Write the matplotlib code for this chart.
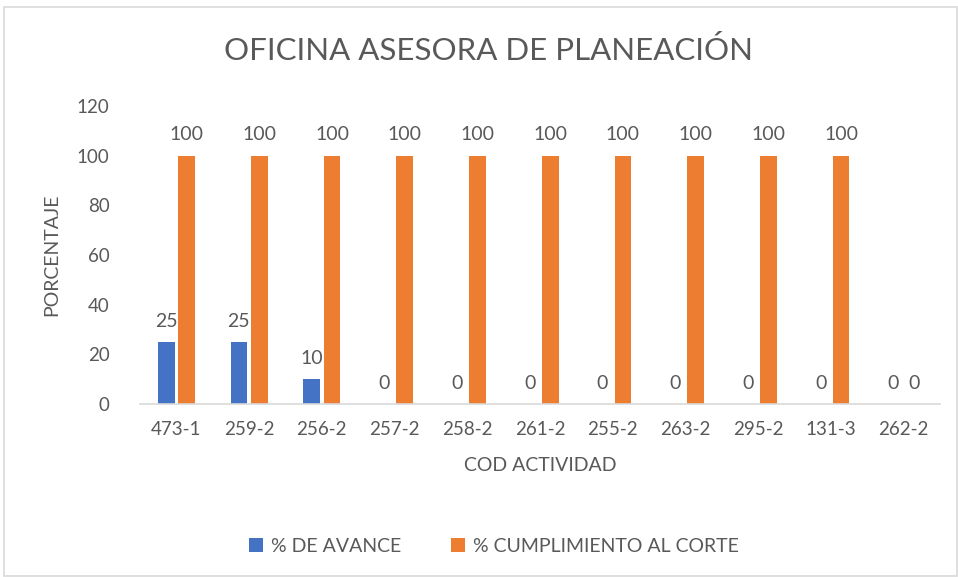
import numpy as np
import matplotlib.pyplot as plt
from matplotlib.patches import Rectangle

# data
categorias = ['473-1', '259-2', '256-2', '257-2', '258-2', '261-2',
              '255-2', '263-2', '295-2', '131-3', '262-2']
avance = [25, 25, 10, 0, 0, 0, 0, 0, 0, 0, 0]
cumplimiento = [100, 100, 100, 100, 100, 100, 100, 100, 100, 100, 0]

plt.rcParams['font.family'] = ['Lato', 'DejaVu Sans']
gris = '#595959'
azul = '#4472C4'
naranja = '#ED7D31'

fig = plt.figure(figsize=(9.58, 5.77), dpi=100)
ax = fig.add_axes([140/958, 1 - 404/577, 800/958, (404-106)/577])

x = np.arange(len(categorias))
w = 0.23
b1 = ax.bar(x - w/2 - 0.025, avance, w, color=azul, label='% DE AVANCE')
b2 = ax.bar(x + w/2 + 0.025, cumplimiento, w, color=naranja, label='% CUMPLIMIENTO AL CORTE')

for bars in (b1, b2):
    for r in bars:
        h = r.get_height()
        ax.annotate('%d' % h, (r.get_x() + r.get_width()/2, h), xytext=(0, 15),
                    textcoords='offset points', ha='center', va='center',
                    fontsize=14, color=gris)

ax.set_xlim(-0.5, len(categorias) - 0.5)
ax.set_ylim(0, 120)
ax.set_yticks(range(0, 121, 20))
ax.set_xticks(x)
ax.set_xticklabels(categorias)
ax.tick_params(axis='both', length=0, labelsize=13.5, colors=gris)
ax.tick_params(axis='x', pad=12)
ax.tick_params(axis='y', pad=22)
for s in ('top', 'right', 'left'):
    ax.spines[s].set_visible(False)
ax.spines['bottom'].set_color('#D9D9D9')
ax.spines['bottom'].set_linewidth(1.2)

ax.set_xlabel('COD ACTIVIDAD', fontsize=14, color=gris, labelpad=14)
ax.set_ylabel('PORCENTAJE', fontsize=14, color=gris, labelpad=12)

fig.text(488/958, 1 - 50/577, 'OFICINA ASESORA DE PLANEACIÓN', ha='center', va='center',
         fontsize=22.5, color=gris)

fig.legend(loc='center', bbox_to_anchor=(494/958, 1 - 546/577), ncol=2, frameon=False,
           fontsize=14, labelcolor=gris, handlelength=0.7, handleheight=0.7,
           columnspacing=2.6, handletextpad=0.4)

fig.patches.append(Rectangle((4/958, 1/577), 953/958, 569/577, transform=fig.transFigure,
                             fill=False, edgecolor='#D9D9D9', linewidth=1.2))

fig.savefig('out.png', dpi=100)
